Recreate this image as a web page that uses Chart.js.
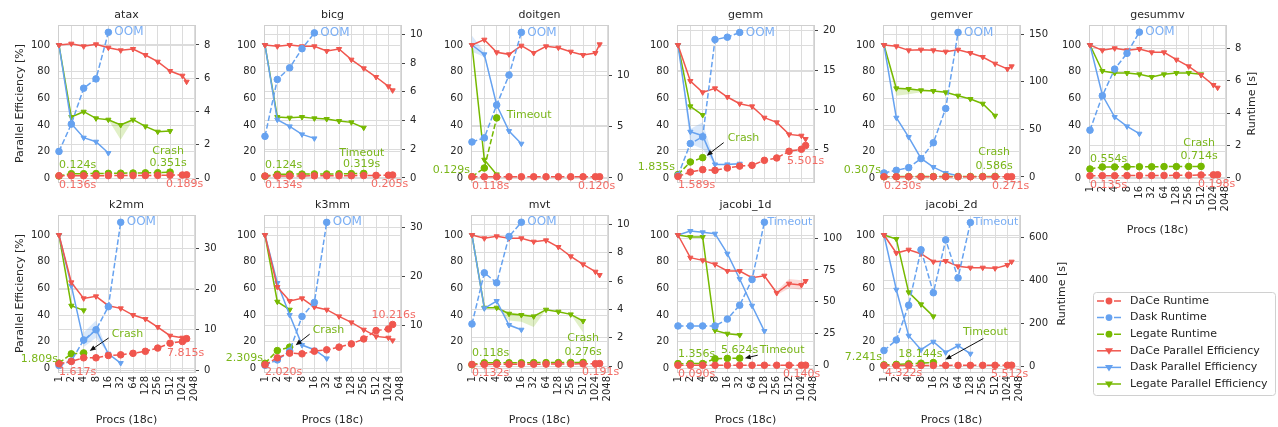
<!DOCTYPE html>
<html>
<head>
<meta charset="utf-8">
<title>Scaling</title>
<script src="https://cdn.jsdelivr.net/npm/chart.js"></script>
<style>
  body { margin: 0; background: #fff; width: 1278px; height: 427px; overflow: hidden; position: relative; }
  canvas { position: absolute; }
</style>
</head>
<body>
<script>
// procs on the x axis (last DaCe point is 1296)
const procs = [1, 2, 4, 8, 16, 32, 64, 128, 256, 512, 1024, 1296];
const xTickLabels = ['1', '2', '4', '8', '16', '32', '64', '128', '256', '512', '1024', '2048'];
const peTicks = [0, 20, 40, 60, 80, 100];

const ataxDacePE = [100, 101, 99, 100.5, 98, 96, 97, 92.5, 87.5, 80.5, 77, 72.5];
const ataxDaskPE = [100, 41, 30.5, 27.5, 19];
const ataxLegatePE = [100, 46, 50, 45, 44, 40, 44, 39, 35, 35.5];
const ataxDaceRT = [0.136, 0.14, 0.14, 0.14, 0.145, 0.15, 0.15, 0.155, 0.16, 0.17, 0.18, 0.189];
const ataxDaskRT = [1.6, 3.24, 5.4, 5.96, 8.76];
const ataxLegateRT = [0.124, 0.26, 0.26, 0.27, 0.28, 0.29, 0.30, 0.31, 0.32, 0.351];
const ataxRtTicks = [0, 2, 4, 6, 8];
const ataxLegateLo = [null, null, null, null, 44, 29, 44];
const ataxLegateHi = [null, null, null, null, 44, 41, 44];

const bicgDacePE = [100, 99, 100, 99, 99, 95.5, 97, 89, 82.5, 76, 69, 66];
const bicgDaskPE = [100, 44, 39, 33, 30];
const bicgLegatePE = [100, 46, 45.5, 46, 45, 44.5, 43, 42, 38];
const bicgDaceRT = [0.134, 0.14, 0.14, 0.145, 0.15, 0.15, 0.155, 0.16, 0.17, 0.18, 0.195, 0.205];
const bicgDaskRT = [2.9, 6.86, 7.67, 9.0, 10.1];
const bicgLegateRT = [0.124, 0.26, 0.27, 0.27, 0.28, 0.28, 0.29, 0.30, 0.319];
const bicgRtTicks = [0, 2, 4, 6, 8, 10];

const doitgenDacePE = [100, 104, 94.5, 93, 99.5, 94, 99, 98, 95, 92.5, 94, 100.5];
const doitgenDaskPE = [100, 93, 55, 35.5, 26];
const doitgenLegatePE = [100, 14, 3];
const doitgenDaceRT = [0.118, 0.118, 0.118, 0.119, 0.119, 0.119, 0.119, 0.119, 0.12, 0.12, 0.12, 0.120];
const doitgenDaskRT = [3.5, 3.9, 7.1, 10.0, 14.15];
const doitgenLegateRT = [0.129, 0.97, 5.84];
const doitgenRtTicks = [0, 5, 10];
const doitgenDaskLo = [95, 91, 55];
const doitgenDaskHi = [107, 95, 55];

const gemmDacePE = [100, 73, 64.5, 67.5, 61, 56, 54, 45.5, 42, 33, 32, 29.5];
const gemmDaskPE = [100, 35, 32, 10.5, 10.5, 11];
const gemmLegatePE = [100, 54, 47.5];
const gemmDaceRT = [1.589, 2.15, 2.45, 2.37, 2.66, 2.9, 3.0, 3.63, 3.93, 4.77, 5.03, 5.501];
const gemmDaskRT = [1.7, 5.75, 6.6, 18.9, 19.2, 19.8];
const gemmLegateRT = [1.835, 3.42, 3.97];
const gemmRtTicks = [5, 10, 15, 20];
const gemmDaskLo = [100, 26, 22, 10, 10, 10.5];
const gemmDaskHi = [100, 37, 42, 11, 11, 12];

const gemverDacePE = [100, 99, 96, 96.5, 96, 95, 96.5, 94, 91, 86, 82, 84];
const gemverDaskPE = [100, 45.5, 31, 15, 8.5, 4, 2];
const gemverLegatePE = [100, 67.5, 67, 66, 65.5, 64.5, 62, 59.5, 56, 47];
const gemverDaceRT = [0.230, 0.235, 0.24, 0.24, 0.245, 0.25, 0.25, 0.255, 0.26, 0.265, 0.27, 0.271];
const gemverDaskRT = [4.2, 7, 9.8, 19.3, 36, 72, 152];
const gemverLegateRT = [0.307, 0.35, 0.38, 0.40, 0.42, 0.45, 0.48, 0.51, 0.55, 0.586];
const gemverRtTicks = [0, 50, 100, 150];
const gemverLegateLo = [100, 62, 63, 64.5, 65.5];
const gemverLegateHi = [100, 68, 68, 66.5, 65.5];

const gesummvDacePE = [100, 96, 97.5, 96, 97, 94.5, 94.5, 89, 84, 77.5, 70, 68];
const gesummvDaskPE = [100, 62.5, 46, 39, 33.5];
const gesummvLegatePE = [100, 80.5, 79, 79, 78, 76, 78, 79, 79, 78];
const gesummvDaceRT = [0.135, 0.14, 0.14, 0.145, 0.15, 0.15, 0.155, 0.16, 0.17, 0.18, 0.19, 0.198];
const gesummvDaskRT = [2.95, 5.07, 6.72, 7.69, 9.0];
const gesummvLegateRT = [0.554, 0.68, 0.68, 0.69, 0.69, 0.69, 0.70, 0.70, 0.71, 0.714];
const gesummvRtTicks = [0, 2, 4, 6, 8];

const k2mmDacePE = [100, 64.5, 52.5, 54, 47, 45, 40, 37, 31, 24.5, 23, 22];
const k2mmDaskPE = [100, 62, 20.5, 29, 11, 4];
const k2mmLegatePE = [100, 47, 43.5];
const k2mmDaceRT = [1.617, 2.2, 3.1, 3.1, 3.67, 3.83, 4.2, 4.7, 5.5, 6.7, 7.1, 7.815];
const k2mmDaskRT = [1.2, 2.3, 7.5, 10, 15.7, 36.5];
const k2mmLegateRT = [1.809, 4.07, 4.3];
const k2mmRtTicks = [0, 10, 20, 30];
const k2mmDaskLo = [null, null, 16, 23, 11];
const k2mmDaskHi = [null, null, 27, 36, 11];

const k3mmDacePE = [100, 61, 50.5, 52.5, 46, 44, 39, 34.5, 29, 24, 23, 21];
const k3mmDaskPE = [100, 64, 40, 17.5, 14, 7.5];
const k3mmLegatePE = [100, 50, 44];
const k3mmDaceRT = [2.020, 3.43, 4.38, 4.24, 4.78, 5.05, 5.6, 6.26, 7.27, 8.96, 9.3, 10.216];
const k3mmDaskRT = [1.9, 3.0, 4.8, 11.85, 14.7, 31];
const k3mmLegateRT = [2.309, 4.9, 5.6];
const k3mmRtTicks = [10, 20, 30];

const mvtDacePE = [100, 97.5, 99, 97.5, 97.5, 95, 96, 91, 84, 78, 72.5, 70];
const mvtDaskPE = [100, 45, 50.5, 32.5, 29];
const mvtLegatePE = [100, 45.5, 45.5, 41, 40, 39, 44, 42.5, 40.5, 35.5];
const mvtDaceRT = [0.132, 0.135, 0.14, 0.14, 0.145, 0.15, 0.155, 0.16, 0.165, 0.175, 0.185, 0.191];
const mvtDaskRT = [2.98, 6.58, 5.88, 9.14, 10.14];
const mvtLegateRT = [0.118, 0.25, 0.25, 0.25, 0.25, 0.26, 0.26, 0.26, 0.27, 0.276];
const mvtRtTicks = [0, 2, 4, 6, 8, 10];
const mvtLegateLo = [null, null, 45.5, 36, 35, 31, 44, 42.5, 40.5, 27];
const mvtLegateHi = [null, null, 45.5, 42, 41, 40, 44, 42.5, 40.5, 37];

const jacobi1dDacePE = [100, 83, 81, 78, 73, 73, 68, 69.5, 56.5, 63.5, 62.5, 65.5];
const jacobi1dDaskPE = [100, 103, 102, 101, 86, 67, 47, 28];
const jacobi1dLegatePE = [100, 98.5, 98.5, 28.5, 26, 25];
const jacobi1dDaceRT = [0.090, 0.095, 0.10, 0.10, 0.105, 0.11, 0.115, 0.12, 0.125, 0.13, 0.135, 0.140];
const jacobi1dDaskRT = [31, 31, 31, 31, 36.4, 47.3, 67.5, 112.5];
const jacobi1dLegateRT = [1.356, 1.4, 1.45, 5.2, 5.5, 5.624];
const jacobi1dRtTicks = [0, 25, 50, 75, 100];
const jacobi1dDaceLo = [null, null, null, null, null, null, null, 69.5, 55, 60, 59, 65.5];
const jacobi1dDaceHi = [null, null, null, null, null, null, null, 69.5, 58, 67, 66, 65.5];

const jacobi2dDacePE = [100, 86.5, 89, 86, 80, 80.5, 76.5, 75.5, 75.5, 75, 77.5, 80];
const jacobi2dDaskPE = [100, 59, 24.5, 14, 20, 12, 17, 11];
const jacobi2dLegatePE = [100, 97, 57, 48, 39];
const jacobi2dDaceRT = [4.322, 4.4, 4.5, 4.6, 4.7, 4.8, 4.9, 5.0, 5.1, 5.2, 5.4, 5.512];
const jacobi2dDaskRT = [74, 123, 285, 543, 343, 589, 412, 670];
const jacobi2dLegateRT = [7.241, 9.5, 12, 15, 18.144];
const jacobi2dRtTicks = [0, 200, 400, 600];

const legendLabels = ['DaCe Runtime', 'Dask Runtime', 'Legate Runtime',
  'DaCe Parallel Efficiency', 'Dask Parallel Efficiency', 'Legate Parallel Efficiency'];

// ---- styling ----
const FONT = 'DejaVu Sans';
const RED = '#f0564e', BLUE = '#66a2f0', GREEN = '#76b900';
const BAND = { r: 'rgba(240,86,78,0.22)', b: 'rgba(102,162,240,0.25)', g: 'rgba(118,185,0,0.22)' };
const TXT = { r: '#f26b64', b: '#7aaef4', g: '#7ab61a' };
const GRID = '#dcdcdc', TICK = '#262626';
const COL_LEFT = [58, 264, 471, 677, 883, 1089];
const ROW_TOP = [0, 190];
const L = 58, W = 137, H = 157, T = 25;

const N = (s, i, t, c, a, dx, dy, extra) => Object.assign({ s, i, t, c, a, dx, dy }, extra || {});
const oom = () => N(1, -1, 'OOM', 'b', 'left', 6, 0, { size: 12 });

const plots = [
  { name: 'atax', col: 0, row: 0, d: [ataxDaceRT, ataxDaskRT, ataxLegateRT, ataxDacePE, ataxDaskPE, ataxLegatePE],
    rt: [-0.24, 9.2], rtTicks: ataxRtTicks, ylab: true, bands: [[ataxLegateLo, ataxLegateHi, 'g']],
    notes: [N(2, 0, '0.124s', 'g', 'left', 0, -11), N(0, 0, '0.136s', 'r', 'left', 0, 9), N(0, -1, '0.189s', 'r', 'center', -2, 9),
      N(2, -1, '0.351s', 'g', 'center', -2, -9), N(2, -1, 'Crash', 'g', 'center', -2, -21), oom()] },
  { name: 'bicg', col: 1, row: 0, d: [bicgDaceRT, bicgDaskRT, bicgLegateRT, bicgDacePE, bicgDaskPE, bicgLegatePE],
    rt: [-0.28, 10.65], rtTicks: bicgRtTicks,
    notes: [N(2, 0, '0.124s', 'g', 'left', 0, -11), N(0, 0, '0.134s', 'r', 'left', 0, 9), N(0, -1, '0.205s', 'r', 'center', -3, 9),
      N(2, -1, '0.319s', 'g', 'center', -2, -9), N(2, -1, 'Timeout', 'g', 'center', -2, -20), oom()] },
  { name: 'doitgen', col: 2, row: 0, d: [doitgenDaceRT, doitgenDaskRT, doitgenLegateRT, doitgenDacePE, doitgenDaskPE, doitgenLegatePE],
    rt: [-0.39, 14.87], rtTicks: doitgenRtTicks, bands: [[doitgenDaskLo, doitgenDaskHi, 'b']],
    notes: [N(2, 0, '0.129s', 'g', 'right', -2, -7), N(0, 0, '0.118s', 'r', 'left', 0, 9), N(0, -1, '0.120s', 'r', 'center', -3, 9),
      N(2, -1, 'Timeout', 'g', 'left', 10, -3), oom()] },
  { name: 'gemm', col: 3, row: 0, d: [gemmDaceRT, gemmDaskRT, gemmLegateRT, gemmDacePE, gemmDaskPE, gemmLegatePE],
    rt: [0.89, 20.74], rtTicks: gemmRtTicks, bands: [[gemmDaskLo, gemmDaskHi, 'b']],
    notes: [N(2, 0, '1.835s', 'g', 'right', -3, -7), N(0, 0, '1.589s', 'r', 'left', 0, 9), N(0, -1, '5.501s', 'r', 'center', 0, 16),
      N(2, -1, 'Crash', 'g', 'left', 25, -19, { arrow: [21, -15, 4, -2] }), oom()] },
  { name: 'gemver', col: 4, row: 0, d: [gemverDaceRT, gemverDaskRT, gemverLegateRT, gemverDacePE, gemverDaskPE, gemverLegatePE],
    rt: [-5.3, 159.8], rtTicks: gemverRtTicks, bands: [[gemverLegateLo, gemverLegateHi, 'g']],
    notes: [N(2, 0, '0.307s', 'g', 'right', -3, -7), N(0, 0, '0.230s', 'r', 'left', 0, 9), N(0, -1, '0.271s', 'r', 'center', -1, 9),
      N(2, -1, '0.586s', 'g', 'center', -1, -10), N(2, -1, 'Crash', 'g', 'center', -1, -24), oom()] },
  { name: 'gesummv', col: 5, row: 0, d: [gesummvDaceRT, gesummvDaskRT, gesummvLegateRT, gesummvDacePE, gesummvDaskPE, gesummvLegatePE],
    rt: [-0.25, 9.44], rtTicks: gesummvRtTicks, xlab: true, rtitle: 26,
    notes: [N(2, 0, '0.554s', 'g', 'left', 0, -10), N(0, 0, '0.135s', 'r', 'left', 0, 9), N(0, -1, '0.198s', 'r', 'center', -1, 9),
      N(2, -1, '0.714s', 'g', 'center', -2, -10), N(2, -1, 'Crash', 'g', 'center', -2, -23), oom()] },
  { name: 'k2mm', col: 0, row: 1, d: [k2mmDaceRT, k2mmDaskRT, k2mmLegateRT, k2mmDacePE, k2mmDaskPE, k2mmLegatePE],
    rt: [-0.4, 38.3], rtTicks: k2mmRtTicks, xlab: true, ylab: true, bands: [[k2mmDaskLo, k2mmDaskHi, 'b']],
    notes: [N(2, 0, '1.809s', 'g', 'right', -1, -4), N(0, 0, '1.617s', 'r', 'left', 0, 8), N(0, -1, '7.815s', 'r', 'center', -1, 14),
      N(2, -1, 'Crash', 'g', 'left', 28, -19, { arrow: [25, -15, 6, -2] }), oom()] },
  { name: 'k3mm', col: 1, row: 1, d: [k3mmDaceRT, k3mmDaskRT, k3mmLegateRT, k3mmDacePE, k3mmDaskPE, k3mmLegatePE],
    rt: [0.54, 32.5], rtTicks: k3mmRtTicks, xlab: true,
    notes: [N(2, 0, '2.309s', 'g', 'right', -2, -5), N(0, 0, '2.020s', 'r', 'left', 0, 7), N(0, -1, '10.216s', 'r', 'center', 1, -9),
      N(2, -1, 'Crash', 'g', 'left', 23, -17, { arrow: [20, -13, 6, -2] }), oom()] },
  { name: 'mvt', col: 2, row: 1, d: [mvtDaceRT, mvtDaskRT, mvtLegateRT, mvtDacePE, mvtDaskPE, mvtLegatePE],
    rt: [-0.4, 10.65], rtTicks: mvtRtTicks, xlab: true, bands: [[mvtLegateLo, mvtLegateHi, 'g']],
    notes: [N(2, 0, '0.118s', 'g', 'left', 0, -11), N(0, 0, '0.132s', 'r', 'left', 0, 9), N(0, -1, '0.191s', 'r', 'center', 1, 9),
      N(2, -1, '0.276s', 'g', 'center', 0, -10), N(2, -1, 'Crash', 'g', 'center', 0, -24), oom()] },
  { name: 'jacobi_1d', col: 3, row: 1, d: [jacobi1dDaceRT, jacobi1dDaskRT, jacobi1dLegateRT, jacobi1dDacePE, jacobi1dDaskPE, jacobi1dLegatePE],
    rt: [-5.2, 118.2], rtTicks: jacobi1dRtTicks, xlab: true, bands: [[jacobi1dDaceLo, jacobi1dDaceHi, 'r']],
    notes: [N(2, 0, '1.356s', 'g', 'left', 0, -10), N(0, 0, '0.090s', 'r', 'left', 0, 9), N(0, -1, '0.140s', 'r', 'center', -4, 9),
      N(2, -1, '5.624s', 'g', 'center', 0, -8), N(2, -1, 'Timeout', 'g', 'left', 20, -8, { arrow: [18, -3, 5, 0] }),
      N(1, -1, 'Timeout', 'b', 'left', 3, 0)] },
  { name: 'jacobi_2d', col: 4, row: 1, d: [jacobi2dDaceRT, jacobi2dDaskRT, jacobi2dLegateRT, jacobi2dDacePE, jacobi2dDaskPE, jacobi2dLegatePE],
    rt: [-26, 705], rtTicks: jacobi2dRtTicks, xlab: true, rtitle: 42,
    notes: [N(2, 0, '7.241s', 'g', 'right', -2, -8), N(0, 0, '4.322s', 'r', 'left', 1, 8), N(0, -1, '5.512s', 'r', 'center', -2, 9),
      N(2, -1, '18.144s', 'g', 'center', -13, -8), N(2, -1, 'Timeout', 'g', 'center', 52, -30, { arrow: [50, -24, 12, -3] }),
      N(1, -1, 'Timeout', 'b', 'left', 3, 0)] }
];

const seriesStyle = [
  { color: RED, rt: true }, { color: BLUE, rt: true }, { color: GREEN, rt: true },
  { color: RED, rt: false }, { color: BLUE, rt: false }, { color: GREEN, rt: false }
];

function pts(values) {
  return values.map((v, i) => ({ x: Math.log2(procs[i]), y: v }));
}

// frame around the plot area
const framePlugin = {
  id: 'frame',
  beforeDatasetsDraw(chart) {
    const a = chart.chartArea, ctx = chart.ctx;
    ctx.save();
    ctx.strokeStyle = '#cfcfcf';
    ctx.lineWidth = 1;
    ctx.strokeRect(Math.round(a.left) + 0.5, Math.round(a.top) + 0.5, Math.round(a.right - a.left), Math.round(a.bottom - a.top));
    ctx.restore();
  }
};

// text labels next to points, plus arrows
const notesPlugin = {
  id: 'notes',
  afterDatasetsDraw(chart, args, opts) {
    const ctx = chart.ctx;
    ctx.save();
    for (const n of opts.items || []) {
      const meta = chart.getDatasetMeta(n.s);
      const el = meta.data[n.i < 0 ? meta.data.length + n.i : n.i];
      const ax = el.x, ay = el.y;
      if (n.arrow) {
        const x1 = ax + n.arrow[0], y1 = ay + n.arrow[1], x2 = ax + n.arrow[2], y2 = ay + n.arrow[3];
        const ang = Math.atan2(y2 - y1, x2 - x1);
        ctx.strokeStyle = '#111';
        ctx.fillStyle = '#111';
        ctx.lineWidth = 1;
        ctx.beginPath();
        ctx.moveTo(x1, y1);
        ctx.lineTo(x2 - 4 * Math.cos(ang), y2 - 4 * Math.sin(ang));
        ctx.stroke();
        ctx.beginPath();
        ctx.moveTo(x2, y2);
        ctx.lineTo(x2 - 6 * Math.cos(ang) + 2.5 * Math.sin(ang), y2 - 6 * Math.sin(ang) - 2.5 * Math.cos(ang));
        ctx.lineTo(x2 - 6 * Math.cos(ang) - 2.5 * Math.sin(ang), y2 - 6 * Math.sin(ang) + 2.5 * Math.cos(ang));
        ctx.closePath();
        ctx.fill();
      }
      ctx.font = (n.size || 11) + 'px "' + FONT + '"';
      ctx.fillStyle = TXT[n.c];
      ctx.textAlign = n.a;
      ctx.textBaseline = 'middle';
      ctx.fillText(n.t, ax + n.dx, ay + n.dy);
    }
    ctx.restore();
  }
};

// right-hand axis title, reading bottom to top
const rightTitlePlugin = {
  id: 'rtitle',
  afterDraw(chart, args, opts) {
    if (opts.offset == null) return;
    const a = chart.chartArea, ctx = chart.ctx;
    ctx.save();
    ctx.translate(a.right + opts.offset, (a.top + a.bottom) / 2);
    ctx.rotate(-Math.PI / 2);
    ctx.font = '11px "' + FONT + '"';
    ctx.fillStyle = TICK;
    ctx.textAlign = 'center';
    ctx.textBaseline = 'middle';
    ctx.fillText('Runtime [s]', 0, 0);
    ctx.restore();
  }
};

function makeChart(p) {
  const B = p.xlab ? 57 : 24;
  const cv = document.createElement('canvas');
  cv.width = L + W + L;
  cv.height = T + H + B;
  cv.style.width = cv.width + 'px';
  cv.style.height = cv.height + 'px';
  cv.style.left = (COL_LEFT[p.col] - L) + 'px';
  cv.style.top = ROW_TOP[p.row] + 'px';
  document.body.appendChild(cv);

  const datasets = p.d.map((vals, k) => {
    const st = seriesStyle[k];
    return {
      label: legendLabels[k],
      data: pts(vals),
      yAxisID: st.rt ? 'y1' : 'y',
      borderColor: st.color,
      backgroundColor: st.color,
      borderWidth: 1.5,
      borderDash: st.rt ? [5.5, 2.4] : [],
      pointStyle: st.rt ? 'circle' : 'triangle',
      pointRotation: st.rt ? 0 : 180,
      pointRadius: st.rt ? 3.3 : 3,
      pointBorderWidth: 1,
      tension: 0,
      clip: 6
    };
  });

  // shaded spread bands on the efficiency axis (drawn underneath)
  (p.bands || []).forEach(([lo, hi, c]) => {
    datasets.push({ data: pts(lo), yAxisID: 'y', borderWidth: 0, pointRadius: 0, fill: '+1', backgroundColor: BAND[c], spanGaps: false });
    datasets.push({ data: pts(hi), yAxisID: 'y', borderWidth: 0, pointRadius: 0, fill: false, spanGaps: false });
  });

  new Chart(cv, {
    type: 'line',
    data: { datasets },
    options: {
      responsive: false,
      animation: false,
      devicePixelRatio: 1,
      layout: { padding: 0 },
      plugins: {
        legend: { display: false },
        tooltip: { enabled: false },
        title: { display: true, text: p.name, color: TICK, font: { family: FONT, size: 11, weight: 'normal' },
          padding: { top: 8.4, bottom: 3.4 } },
        notes: { items: p.notes },
        rtitle: { offset: p.rtitle }
      },
      scales: {
        x: {
          type: 'linear', min: -0.08, max: 11.02,
          afterBuildTicks: s => { s.ticks = xTickLabels.map(v => ({ value: Math.log2(+v) })); },
          afterFit: s => { s.height = B; },
          grid: { color: GRID, lineWidth: 1, drawTicks: false },
          border: { display: false },
          ticks: { display: !!p.xlab, autoSkip: false, minRotation: 90, maxRotation: 90, padding: 4, color: TICK,
            font: { family: FONT, size: 10 }, callback: (v, i) => xTickLabels[i] },
          title: { display: !!p.xlab, text: 'Procs (18c)', color: TICK, font: { family: FONT, size: 11 },
            padding: { top: 0, bottom: 2 } }
        },
        y: {
          position: 'left', min: -2.7, max: 115,
          afterBuildTicks: s => { s.ticks = peTicks.map(v => ({ value: v })); },
          afterFit: s => { s.width = L; },
          grid: { color: GRID, lineWidth: 1, drawTicks: false },
          border: { display: false },
          ticks: { padding: 8, color: TICK, font: { family: FONT, size: 10 } },
          title: { display: !!p.ylab, text: 'Parallel Efficiency [%]', color: TICK, font: { family: FONT, size: 11 },
            padding: { top: 14, bottom: 0 } }
        },
        y1: {
          position: 'right', min: p.rt[0], max: p.rt[1],
          afterBuildTicks: s => { s.ticks = p.rtTicks.map(v => ({ value: v })); },
          afterFit: s => { s.width = L; },
          grid: { color: GRID, lineWidth: 1, drawTicks: true, tickLength: 4, tickColor: '#444' },
          border: { display: false },
          ticks: { padding: 5, color: TICK, font: { family: FONT, size: 10 } }
        }
      }
    },
    plugins: [framePlugin, notesPlugin, rightTitlePlugin]
  });
}

plots.forEach(makeChart);

// legend panel
const legendPlugin = {
  id: 'legendPanel',
  afterDraw(chart) {
    const ctx = chart.ctx;
    ctx.save();
    ctx.fillStyle = '#fff';
    ctx.strokeStyle = '#d0d0d0';
    ctx.lineWidth = 1;
    ctx.beginPath();
    ctx.roundRect(5.5, 4.5, 182, 103, 3);
    ctx.fill();
    ctx.stroke();
    chart.data.datasets.forEach((ds, k) => {
      const y = 13 + k * 16.6;
      const c = ds.borderColor;
      ctx.strokeStyle = c;
      ctx.fillStyle = c;
      ctx.lineWidth = 1.5;
      ctx.beginPath();
      if (ds.rt) {
        ctx.moveTo(9, y); ctx.lineTo(16, y);
        ctx.moveTo(26, y); ctx.lineTo(33, y);
      } else {
        ctx.moveTo(9, y); ctx.lineTo(33, y);
      }
      ctx.stroke();
      ctx.beginPath();
      if (ds.rt) {
        ctx.arc(21, y, 3.4, 0, Math.PI * 2);
      } else {
        ctx.moveTo(17, y - 2.5); ctx.lineTo(25, y - 2.5); ctx.lineTo(21, y + 4);
        ctx.closePath();
      }
      ctx.fill();
      ctx.font = '11px "' + FONT + '"';
      ctx.fillStyle = TICK;
      ctx.textAlign = 'left';
      ctx.textBaseline = 'middle';
      ctx.fillText(ds.label, 42, y);
    });
    ctx.restore();
  }
};

const lg = document.createElement('canvas');
lg.width = 190; lg.height = 112;
lg.style.width = '190px'; lg.style.height = '112px';
lg.style.left = '1088px'; lg.style.top = '288px';
document.body.appendChild(lg);
new Chart(lg, {
  type: 'line',
  data: { datasets: seriesStyle.map((st, k) => ({ label: legendLabels[k], data: [], borderColor: st.color, rt: st.rt })) },
  options: {
    responsive: false, animation: false, devicePixelRatio: 1,
    plugins: { legend: { display: false }, tooltip: { enabled: false } },
    scales: { x: { display: false }, y: { display: false } }
  },
  plugins: [legendPlugin]
});
</script>
</body>
</html>
